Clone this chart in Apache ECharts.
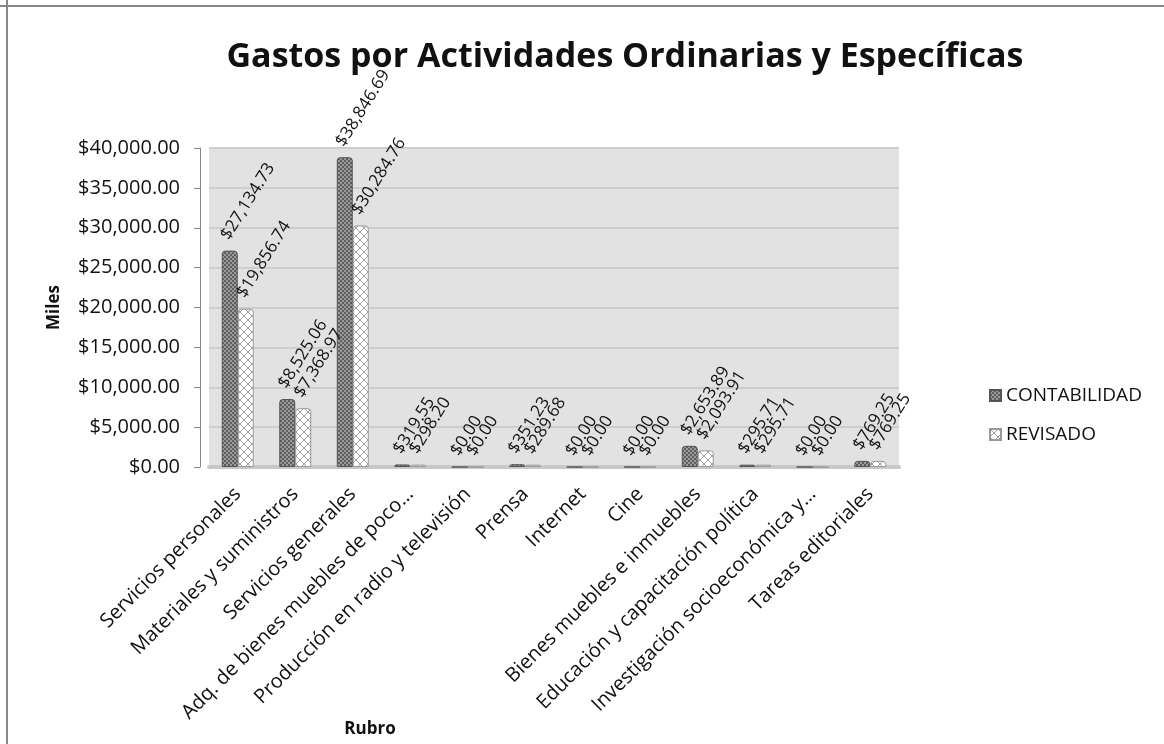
<!DOCTYPE html>
<html>
<head>
<meta charset="utf-8">
<script src="https://cdn.jsdelivr.net/npm/echarts@6/dist/echarts.min.js"></script>
<style>
html,body{margin:0;padding:0;background:#fff;}
#chart{width:1164px;height:744px;}
</style>
</head>
<body>
<div id="chart"></div>
<script>
const categories = [
  'Servicios personales',
  'Materiales y suministros',
  'Servicios generales',
  'Adq. de bienes muebles de poco…',
  'Producción en radio y televisión',
  'Prensa',
  'Internet',
  'Cine',
  'Bienes muebles e inmuebles',
  'Educación y capacitación política',
  'Investigación socioeconómica y…',
  'Tareas editoriales'
];
const contabilidad = [27134.73, 8525.06, 38846.69, 319.55, 0, 351.23, 0, 0, 2653.89, 295.71, 0, 769.25];
const revisado     = [19856.74, 7368.97, 30284.76, 298.20, 0, 289.68, 0, 0, 2093.91, 295.71, 0, 769.25];
const seriesNames = ['CONTABILIDAD', 'REVISADO'];
const yTicks = { min: 0, max: 40000, interval: 5000 };

function makeDark() {
  const c = document.createElement('canvas'); c.width = 4; c.height = 4;
  const g = c.getContext('2d');
  g.fillStyle = '#9a9a9a'; g.fillRect(0,0,4,4);
  g.fillStyle = '#5e5e5e';
  g.fillRect(0,0,2,2); g.fillRect(2,2,2,2);
  return c;
}
function makeLight() {
  const c = document.createElement('canvas'); c.width = 8; c.height = 8;
  const g = c.getContext('2d');
  g.fillStyle = '#ffffff'; g.fillRect(0,0,8,8);
  g.strokeStyle = '#a0a0a0'; g.lineWidth = 1;
  g.beginPath(); g.moveTo(0,0); g.lineTo(8,8); g.moveTo(8,0); g.lineTo(0,8); g.stroke();
  return c;
}
const darkFill = { image: makeDark(), repeat: 'repeat' };
const lightFill = { image: makeLight(), repeat: 'repeat' };

function fmt(v) {
  return '$' + v.toLocaleString('en-US', { minimumFractionDigits: 2, maximumFractionDigits: 2 });
}

const FONT = 'Open Sans';
const chart = echarts.init(document.getElementById('chart'));
const labelCfg = {
  show: true, position: 'top', rotate: 58, align: 'left', verticalAlign: 'middle',
  distance: 20, offset: [-9, 0],
  fontFamily: FONT, fontSize: 17, color: '#111',
  formatter: p => fmt(p.value)
};
chart.setOption({
  backgroundColor: '#fff',
  textStyle: { fontFamily: FONT },
  title: {
    text: 'Gastos por Actividades Ordinarias y Específicas',
    left: 620, top: 35, textAlign: 'center',
    textStyle: { fontFamily: FONT, fontSize: 34, fontWeight: 'bold', color: '#111' }
  },
  legend: {
    orient: 'vertical', left: 984, top: 381, itemGap: 20,
    itemWidth: 11, itemHeight: 11, icon: 'rect',
    textStyle: { fontFamily: FONT, fontSize: 19, color: '#111' },
    data: seriesNames
  },
  grid: { left: 209, right: 265, top: 148, bottom: 277, show: true, backgroundColor: '#e2e2e2', borderWidth: 0 },
  xAxis: {
    type: 'category', data: categories,
    name: 'Rubro', nameLocation: 'middle', nameGap: 254, nameMoveOverlap: false,
    nameTextStyle: { fontFamily: FONT, fontSize: 17, fontWeight: 'bold', color: '#111', padding: [0, 368, 0, 0] },
    axisLine: { show: true, lineStyle: { color: '#c8c8c8', width: 4 } },
    axisTick: { show: false },
    axisLabel: { rotate: 45, interval: 0, margin: 24, fontFamily: FONT, fontSize: 20, color: '#111' }
  },
  yAxis: {
    type: 'value', min: yTicks.min, max: yTicks.max, interval: yTicks.interval,
    offset: 9,
    name: 'Miles', nameLocation: 'middle', nameGap: 137, nameMoveOverlap: false,
    nameTextStyle: { fontFamily: FONT, fontSize: 17, fontWeight: 'bold', color: '#111' },
    axisLine: { show: true, lineStyle: { color: '#888', width: 1 } },
    axisTick: { show: true, length: 6, lineStyle: { color: '#888' } },
    axisLabel: { margin: 20, fontFamily: FONT, fontSize: 20, color: '#111', formatter: v => fmt(v) },
    splitLine: { show: true, lineStyle: { color: '#cdcdcd', width: 2 } }
  },
  graphic: [
    { type: 'line', shape: { x1: 7, y1: 0, x2: 7, y2: 744 }, style: { stroke: '#888', lineWidth: 2 } },
    { type: 'line', shape: { x1: 0, y1: 6, x2: 1164, y2: 6 }, style: { stroke: '#888', lineWidth: 2 } }
  ],
  series: [
    { name: seriesNames[0], type: 'bar', data: contabilidad, barWidth: 16, barGap: '0%',
      itemStyle: { color: darkFill, borderColor: '#555', borderWidth: 1, borderRadius: [3,3,0,0] },
      label: labelCfg },
    { name: seriesNames[1], type: 'bar', data: revisado, barWidth: 16,
      itemStyle: { color: lightFill, borderColor: '#999', borderWidth: 1, borderRadius: [3,3,0,0] },
      label: labelCfg }
  ]
});
</script>
</body>
</html>
